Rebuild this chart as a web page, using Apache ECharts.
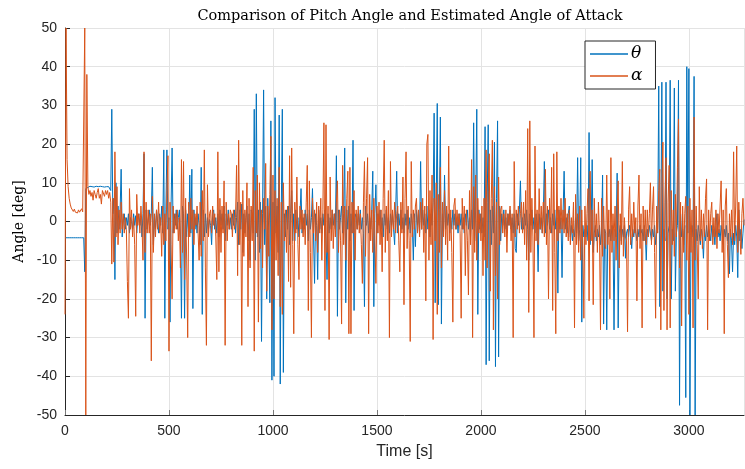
<!DOCTYPE html>
<html>
<head>
<meta charset="utf-8">
<script src="https://cdn.jsdelivr.net/npm/echarts@6/dist/echarts.min.js"></script>
<style>
  html, body { margin: 0; padding: 0; background: #fff; }
  #chart { width: 745px; height: 469px; }
</style>
</head>
<body>
<div id="chart"></div>
<script>
// 采样间隔 (s)
const dt = 5;
const xTicks = [0, 500, 1000, 1500, 2000, 2500, 3000];
const yTicks = [-50, -40, -30, -20, -10, 0, 10, 20, 30, 40, 50];

// 俯仰角 theta (deg), 每行 100 s
const theta = [
  -4.2,-4.2,-4.2,-4.2,-4.2,-4.2,-4.2,-4.2,-4.2,-4.2,-4.2,-4.2,-4.2,-4.2,-4.2,-4.2,-4.2,-4.2,-4.2,-13,
  8.5,9,8.8,9,9.1,8.9,9,9.2,8.9,9,9.1,8.8,9,9,9.1,8.9,9,9.2,8.9,9,
  9,8.8,9,9.1,8,29,2,6,-15,10,-3,4,-2,3,13.5,-4,0.5,2,-2,1,
  -1,2,-3,1,0,-2,2,-1,1.5,-3,0.5,2,-1,1,-4,2,17.5,-25,3,-2,
  -2,3,-1,2,14,-6,1,-2,3,0,-3,2,-1,4,-3,18.5,-25,3,18.5,-2,
  1,-26,4,19,-3,2,-1,3,-2,1,3,-4,-25,4,2,-25,3,-4,2,-3,
  12,-3,13.5,-22.5,3,-2,1,-3,2,-1,-6,14,-24,3,-4,2,-3,1,-2,0.5,
  -1,-6,2,3,-2,1,-3,2,-4,3,-1,2,-2,4,-5,2,-1,3,-2,1,
  -2,2,-1,3,-3,1,5,-6,3,-2,4.5,-8,2,-3,1,4,-5,2,-10,3,
  2,-3,29,-10,33,-4,3,-8,5,-31,2,34,-6,4,-20,6,-3,-21,26,-41,
  5,-40,32,-3,4,-8,27.5,-42,3,29,-39,2,-4,3,-2,4,-6,2,8,-5,
  2,-5,3,-2,1,-4,2,8.5,-3,1,-2,3,-1,2,-5,3,-2,1,8.5,-4,
  -16,2,-1,-15,3,-2,1,-3,2,-1,3,-4,-15,2,-3,1,-2,3,-1,2,
  -2,17,-24.5,3,-2,1,4,-3,2,19,-21,3,-2,4,-5,2,-3,21,-23,2,
  1,-2,2,-1,3,-2,1,-3,-22,4,-1,2,-3,1,-2,3,13,-22,2,9.5,
  -3,2,-1,3,-2,1,-4,2,-1,3,-2,1,-3,2,-1,2,-2,-6,3,13,
  -3,2,-1,3,-2,1,-3,2,-1,3,-2,1,-3,2,-1,-10,2,-6.5,3,-1,
  2,-3,15.5,-2,3,-1,2,-3,4,-2,3,-4,2,-1,5,28,-21,4,30.5,-21.5,
  3,27,-26.5,2,-3,12,-2,3,-1,2,-3,1,-2,3,-1,2,-2,1,-3,2,
  -1,2,-2,1,-3,2,-1,3,-2,1,-4,3,-2,25.5,-5,4,29,-24,3,-2,
  2,-3,1,-4,24.5,-37,5,25,-36,3,-6,4,-3,20.5,-37.5,6,26,-35,4,-5,
  2,-1,3,-2,1,-3,2,-1,3,-2,1,-3,2,-7,-8,2,-1,3,10.5,-2,
  1,-2,2,-1,3,-2,-10,2,-1,3,-2,1,-3,2,-1,-13,2,-2,1,-3,
  2,15.5,-3,2,-1,3,-2,1,-3,2,-1,3,-2,1,-18.5,3,-2,1,-14.5,2,
  13,-2,1,-3,2,4,-4,-1,-5,-2,-4,1,-3,16.5,-5,-2,16.5,-26,-1,-4,
  -2,-4,-1,-5,23,-6,-2,16,-8,-3,-1,-5,-2,-4,-1,-6,-3,12,-26.5,-2,
  -3,-28,-1,-4,-2,-5,-1,-3,-28,-2,-4,12.5,-27.5,-3,-1,-5,-2,-4,-1,-9.5,
  -3,-2,-4,-1,-3,-7,-2,-4,-1,-3,-5,-2,-4,-1,-3,-2,-5,-1,-3,-10,
  -2,-4,-1,-3,-5,-2,-4,-1,-6,-3,-2,35,-22,-3,36,-18,-2,-5,36,-20,
  -3,-1,36.5,-20,-2,-5,34.5,-18,-3,-1,36.5,-47.5,2,-4,-2,-6,-1,-45.5,40,-3,
  39.5,-50,-3,-1,-4,37.5,-50,-2,-5,-1,-3,-6,-2,-4,-9.5,-2,-5,-1,-4,-2,
  -3,-5,-1,-4,-2,-6,-1,2,-4,-2,-5,-1,-3,-6,-2,-4,-1,-5,-3,-13.5,
  -2,-5,-13,-3,-6,-1,-4,-14.5,3,-5,-2,-7,-3,0.5
];

// 估计迎角 alpha (deg), 每行 100 s
const alpha = [
  -24,50,16,9,6,4.5,3.5,3,2.6,3.2,2.4,2.8,2.2,3,2.4,2.6,3.3,2.5,3,50,
  -50,38,9,7,8,6.5,7.5,5.5,8,7,6,7.5,8.5,6,7,4.5,8,7.5,6.5,8,
  7,8,6,7.5,5,-11,6,-10.5,18,-4,9,-6,3,-3,5,-2,2,-3,1,-2,
  -15.5,-25,8.5,-2,3,-4,1,-6,-24.5,7,-1,2,-3,4,-1,-10,18,-8,5,-3,
  3,-3,2,-36,6.5,-8,2,-4,3,-2,5,-3,1,-9,4,-6,2,-5,8,17,
  -33.5,5,-6,-20,4,-3,2,-2,3,-5,1,-12,16,-8,15.5,-15,6,-10,-30,5,
  -4,6,-2,3,-6,2,-1,4,-3,-10,5,-9,8,-5,18.5,-12,-32,9.5,-4,2,
  3,-3,4,-1,2,-4,-15,18,-13,6,-8,4,-3,10.5,-32,5,-5,2,-2,3,
  2,-4,3,-2,1,14.5,-14,21,-6,5,-32,8,-9,3,-4,10,-22,6,-12,4,
  -5,14,-33.5,8,-3,12,-26,10,-7,3,-12,6,-2,15,-18,4,-9,7,22,-28,
  12,-20,8,-10,6,-14,14,-22,5,-24,10,-5,3,-8,4,-15.5,17,-17,19,-6,
  -29,5,-3,11.5,-6,-15,4,-2,3,-4,2,-6,5,14.5,-23,10.5,-8,-30,6,-3,
  3,-5,5,-8,4,-3,6,-10,3,25.5,-23,25,-8,4,-30.5,11.5,-5,3,-7,2,
  -4,5,10.5,-8,3,-5,-26.5,14.5,-6,4,-10,6,13,-29,14,-29,5,-3,8,-10,
  3,-2,4,-3,2,-6,-16,5,15.5,-9,6,16.5,-29,7,-5,3,-8,6,-4,-16,
  4,-3,5,-6,3,-13,6,21,-8,4,-5,8,-30,15.5,-4,3,-2,5,-3,2,
  4,-5,-13,5,-3,11.5,-21.5,6,18,-7,4,-5,-31,15.5,-4,3,-2,4,6,-3,
  3,-4,5,-2,6,-8,4,-20.5,20,22.5,-10,8,-6,12,-30.5,6,-5,10,-24,7,
  -8,14,-12,5,-4,8,-6,4,-10,19.5,-5,3,-8,-26,4,6,-2,3,-1,2,
  -3,-25,6,-2,4,-14,3,-5,-19,8,-6,16,-30,9,-8,12,-10,6,-3,2,
  -5,4,-14,6,-10,18.5,-12,8,17.5,-18,6,21,-28,9,-14,5,-20,11.5,-6,3,
  4,-3,2,-4,3,-8,2,-1,4,-5,2,-30,15.5,-4,3,-2,4,-3,2,5,
  -3,5,-6,8,-10,24,-23.5,26,-8,6,-4,-30,19.5,-5,3,-6,8.5,-2,4,-3,
  5,-4,13.5,-6,4,-20,6,-3,14,-23,17.5,-8,-29,18,-5,4,-3,6,-2,3,
  -3,6,-4,2,-5,3,-6,1,-3,5,-27.5,7,-6,2,-8,4,-10,3,-7,-25,
  4,-6,2,8.5,-20.5,13,-5,3,-21.5,6,-4,2,-8,5,-3,-28,6,-9,4,-6,
  -7,12,-6,3,-20,16.5,-8,2,-5,4,-10,3,10.5,-12,2,-6,15.5,-9,1,-4,
  -5,-28.5,3,9,-6,2,-4,5,-3,1,-20.5,4,12,-7,2,-27.5,4,-5,3,-6,
  3,-4,2,10,-6,3,9,-8,-25,4,-3,8,13.5,-28,9,20.5,-23,5,16.5,-28,
  5,14.5,-27.5,8,-6,3,-9,7,-4,14,26.5,-12,5,-27,4,-8,2,6.5,-10,4,
  -24,6,-8,3,-27.5,27,-10,4,-6,-20,9,-5,3,-7,2,-4,6,11,-28,3,
  -5,2,5,-6,1,-4,3,-7,2,-3,4,10.5,-8,3,-29,4,8.5,-6,-14.5,2,
  -4,3,-6,18,-5,4,19.5,-8,5,-3,-8.5,2,6,-1
];

const chart = echarts.init(document.getElementById('chart'), null, { renderer: 'canvas' });

// 转成 [时间, 值]
function toPairs(arr) {
  return arr.map((v, i) => [i * dt, v]);
}

const axisColor = '#262626';
const gridColor = '#e3e3e3';

const option = {
  animation: false,
  backgroundColor: '#fff',
  title: {
    text: 'Comparison of Pitch Angle and Estimated Angle of Attack',
    left: 405,
    top: 4,
    textAlign: 'center',
    textStyle: {
      fontFamily: 'DejaVu Serif',
      fontWeight: 'normal',
      fontSize: 14.5,
      color: '#000'
    }
  },
  legend: {
    orient: 'vertical',
    left: 585,
    top: 41,
    padding: [4, 13, 4, 5],
    itemGap: 4,
    itemWidth: 38,
    itemHeight: 1.5,
    icon: 'rect',
    backgroundColor: '#fff',
    borderColor: axisColor,
    borderWidth: 1,
    borderRadius: 0,
    textStyle: {
      fontFamily: 'DejaVu Serif',
      fontStyle: 'italic',
      fontSize: 17,
      lineHeight: 18,
      color: '#000',
      padding: [0, 0, 0, -2]
    },
    data: ['θ', 'α']
  },
  grid: {
    left: 65,
    right: 1,
    top: 28,
    bottom: 54,
    containLabel: false
  },
  xAxis: {
    type: 'value',
    min: 0,
    max: 3265,
    interval: 500,
    name: 'Time [s]',
    nameLocation: 'middle',
    nameGap: 29,
    nameTextStyle: { fontFamily: 'Liberation Sans', fontSize: 16, color: axisColor },
    axisLine: { onZero: false, lineStyle: { color: axisColor, width: 1 } },
    axisTick: { inside: true, length: 5, lineStyle: { color: '#7a7a7a' } },
    axisLabel: {
      showMaxLabel: false,
      margin: 9,
      fontFamily: 'Liberation Sans',
      fontSize: 14,
      color: axisColor,
      formatter: v => (xTicks.includes(v) ? String(v) : '')
    },
    splitLine: { show: true, lineStyle: { color: gridColor, width: 1 } }
  },
  yAxis: {
    type: 'value',
    min: -50,
    max: 50,
    interval: 10,
    name: 'Angle [deg]',
    nameLocation: 'middle',
    nameGap: 38,
    nameTextStyle: { fontFamily: 'DejaVu Serif', fontSize: 14, color: '#000' },
    axisLine: { show: true, onZero: false, lineStyle: { color: axisColor, width: 1 } },
    axisTick: { show: true, inside: true, length: 5, lineStyle: { color: axisColor } },
    axisLabel: {
      margin: 8,
      fontFamily: 'Liberation Sans',
      fontSize: 14,
      color: axisColor,
      formatter: v => (yTicks.includes(v) ? String(v) : '')
    },
    splitLine: { show: true, lineStyle: { color: gridColor, width: 1 } }
  },
  series: [
    {
      name: 'θ',
      type: 'line',
      data: toPairs(theta),
      symbol: 'none',
      clip: true,
      lineStyle: { color: '#0072BD', width: 1 },
      itemStyle: { color: '#0072BD' }
    },
    {
      name: 'α',
      type: 'line',
      data: toPairs(alpha),
      symbol: 'none',
      clip: true,
      lineStyle: { color: '#D95319', width: 1 },
      itemStyle: { color: '#D95319' }
    }
  ]
};

chart.setOption(option);
</script>
</body>
</html>
